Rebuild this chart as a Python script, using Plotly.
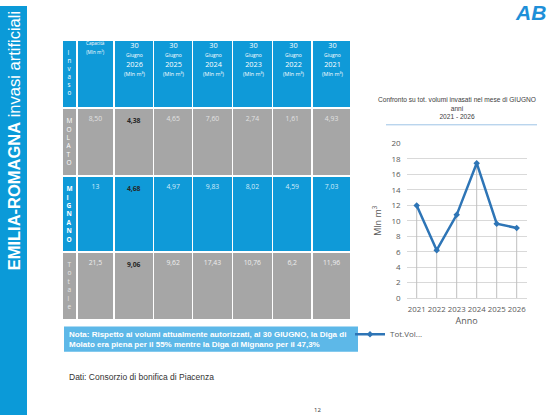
import plotly.graph_objects as go

W, H = 560, 420

# table data (as printed on the slide)
row_labels = ["MOLATO", "MIGNANO", "Totale"]
table_years = ["2026", "2025", "2024", "2023", "2022", "2021"]
capacita = ["8,50", "13", "21,5"]
molato = ["4,38", "4,65", "7,60", "2,74", "1,61", "4,93"]
mignano = ["4,68", "4,97", "9,83", "8,02", "4,59", "7,03"]
totale = ["9,06", "9,62", "17,43", "10,76", "6,2", "11,96"]

# chart data
chart_years = ["2021", "2022", "2023", "2024", "2025", "2026"]
chart_totals = [11.96, 6.2, 10.76, 17.43, 9.62, 9.06]

BLUE = "#0f9ad8"
GRAY = "#a6a6a6"
LINE = "#2e75b6"

# table geometry (pixels)
TX0, TX1 = 62, 352
COL_W = [15, 37, 40, 39, 40, 40, 40, 39]


def px(x):
    return x / W


def py(y):
    return 1 - y / H


def vertical(word, bold=False):
    s = "<br>".join(word)
    return f"<b>{s}</b>" if bold else s


# ---- table ----
# header: only the "Invaso" column inside the table, the rest as centred annotations
header = [vertical("Invaso")] + [""] * (len(COL_W) - 1)
header_text = ["<span style='font-size:4.6px'>Capacità<br>(Mln m³)</span>"]
for yr in table_years:
    header_text.append(
        "30<br><span style='font-size:5px'>Giugno</span><br>" + yr
        + "<br><span style='font-size:5.4px'>(Mln m³)</span>"
    )

cols = [
    [vertical(row_labels[0]), vertical(row_labels[1], bold=True), vertical(row_labels[2])],
    capacita,
]
for j in range(len(table_years)):
    vals = [molato[j], mignano[j], totale[j]]
    if j == 0:
        vals = [f"<b>{v}</b>" for v in vals]
    cols.append(vals)

fills = [[GRAY, BLUE, GRAY] for _ in cols]
font_colors = [["white", "white", "#e6e6e6"], ["#e2e2e2", "#d4ecf8", "#eeeeee"],
               ["#262626", "#262626", "#262626"]]
font_colors += [["#e2e2e2", "#d4ecf8", "#eeeeee"] for _ in table_years[1:]]
font_sizes = [6.5] + [6.8] * (len(cols) - 1)

fig = go.Figure()

fig.add_trace(go.Table(
    domain=dict(x=[px(TX0), px(TX1)], y=[py(327), py(35)]),
    columnwidth=COL_W,
    header=dict(
        values=header,
        fill_color=BLUE,
        line=dict(color="white", width=1.5),
        font=dict(family="Open Sans", color="white", size=6.2),
        align="center",
        height=68,
    ),
    cells=dict(
        values=cols,
        fill_color=fills,
        line=dict(color="white", width=1.5),
        font=dict(family="Open Sans", color=font_colors, size=font_sizes),
        align="center",
        height=68,
    ),
))

# ---- line chart ----
fig.add_trace(go.Scatter(
    x=chart_years, y=chart_totals, mode="markers",
    marker=dict(size=1, opacity=0),
    error_y=dict(type="data", symmetric=False, array=[0] * len(chart_totals),
                 arrayminus=chart_totals, color="#bfbfbf", thickness=1, width=0),
    showlegend=False, hoverinfo="skip",
))
fig.add_trace(go.Scatter(
    x=chart_years, y=chart_totals, mode="lines+markers", name="Tot.Vol...",
    line=dict(color=LINE, width=2.5),
    marker=dict(symbol="diamond", size=5, color=LINE),
))

fig.update_xaxes(
    type="category", domain=[px(406.7), px(526.7)], range=[-0.5, 5.5],
    showgrid=False, zeroline=False, showline=False, ticks="", tickangle=0,
    ticklabelstandoff=5,
    tickfont=dict(family="Open Sans", size=7.8, color="#595959"),
    title=dict(text="Anno", font=dict(family="Open Sans", size=9, color="#595959"), standoff=1),
)
fig.update_yaxes(
    domain=[py(300), py(141)], range=[0, 20], dtick=2,
    showgrid=True, gridcolor="#d9d9d9", gridwidth=1, zeroline=True,
    zerolinecolor="#d9d9d9", zerolinewidth=1, showline=False, ticks="",
    ticklabelstandoff=5,
    tickfont=dict(family="Open Sans", size=8, color="#595959"),
    title=dict(text="Mln m<sup>3</sup>", font=dict(family="Open Sans", size=9, color="#595959"), standoff=8),
)

# ---- slide decorations ----
shapes = [
    dict(type="rect", xref="paper", yref="paper", x0=0, x1=px(27), y0=0, y1=1,
         fillcolor="#0b9ad8", line_width=0, layer="below"),
    dict(type="rect", xref="paper", yref="paper", x0=px(64), x1=px(358), y0=py(355), y1=py(329),
         fillcolor="#5db8e8", line_width=0, layer="below"),
    dict(type="line", xref="paper", yref="paper", x0=px(386), x1=px(537), y0=py(122), y1=py(122),
         line=dict(color="#9dc3e6", width=1)),
]

annotations = [
    dict(x=px(14), y=py(139), xref="paper", yref="paper", showarrow=False, textangle=-90,
         text="<b>EMILIA-ROMAGNA</b> invasi artificiali",
         font=dict(family="Liberation Sans", size=16.5, color="white"),
         xanchor="center", yanchor="middle"),
    dict(x=px(67), y=py(342), xref="paper", yref="paper", showarrow=False, align="left",
         xanchor="left", yanchor="middle",
         text="<b>Nota: Rispetto ai volumi attualmente autorizzati, al 30 GIUGNO, la Diga di<br>"
              "Molato era piena per il 55% mentre la Diga di Mignano per il 47,3%</b>",
         font=dict(family="Liberation Sans", size=8, color="white")),
    dict(x=px(67), y=py(381), xref="paper", yref="paper", showarrow=False,
         xanchor="left", yanchor="middle",
         text="Dati: Consorzio di bonifica di Piacenza",
         font=dict(family="Liberation Sans", size=8.5, color="#333333")),
    dict(x=px(317), y=py(421), xref="paper", yref="paper", showarrow=False,
         xanchor="center", yanchor="bottom",
         text="12", font=dict(family="Open Sans", size=6, color="#333333")),
    dict(x=px(457), y=py(105), xref="paper", yref="paper", showarrow=False,
         text="Confronto su tot. volumi invasati nel mese di GIUGNO<br>anni<br>2021 - 2026",
         font=dict(family="Liberation Sans", size=6.6, color="#404040"),
         xanchor="center", yanchor="middle"),
    dict(x=px(530), y=py(-7), xref="paper", yref="paper", showarrow=False,
         text="<b><i>AB</i></b>", font=dict(family="Liberation Sans", size=21, color="#1e8fd8"),
         xanchor="center", yanchor="top"),
]

# header labels centred over their table columns
edges = [TX0]
for w in COL_W:
    edges.append(edges[-1] + w * (TX1 - TX0) / sum(COL_W))
for k, txt in enumerate(header_text, start=1):
    annotations.append(dict(
        x=px((edges[k] + edges[k + 1]) / 2), y=py(33), xref="paper", yref="paper",
        showarrow=False, xanchor="center", yanchor="top", align="center",
        text=txt, font=dict(family="Open Sans", size=7.3, color="white"),
    ))

fig.update_layout(
    width=W, height=H, margin=dict(l=0, r=0, t=0, b=0),
    paper_bgcolor="white", plot_bgcolor="white",
    shapes=shapes, annotations=annotations,
    showlegend=True,
    legend=dict(x=px(350), y=py(337), xanchor="left", yanchor="middle",
                bgcolor="rgba(0,0,0,0)",
                font=dict(family="Open Sans", size=8, color="#595959")),
)

fig.write_html("out.html", config={"displayModeBar": False},
               post_script="document.body.style.margin = '0';")
